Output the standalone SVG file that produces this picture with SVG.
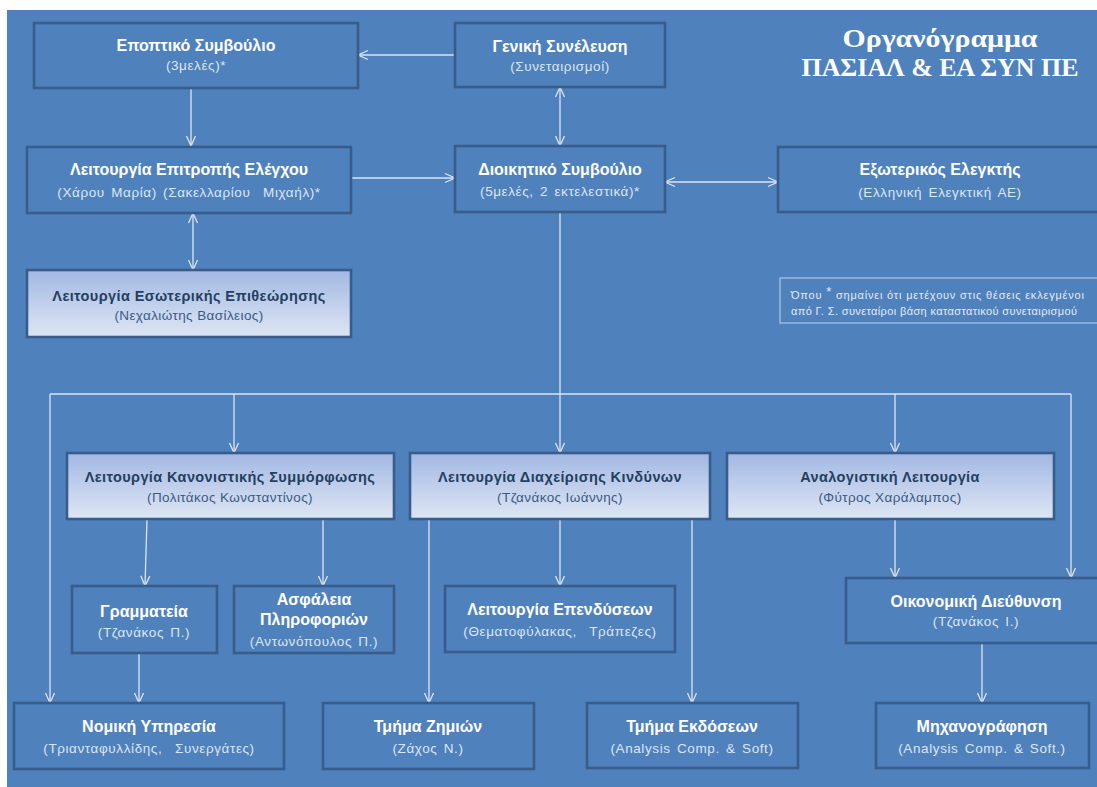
<svg xmlns="http://www.w3.org/2000/svg" width="1097" height="787" viewBox="0 0 1097 787">
<defs>
<linearGradient id="lg" x1="0" y1="0" x2="0" y2="1">
<stop offset="0" stop-color="#A2B8E3"/>
<stop offset="1" stop-color="#DEE6F4"/>
</linearGradient>
<marker id="ah" markerUnits="userSpaceOnUse" markerWidth="14" markerHeight="14" viewBox="0 0 14 14" refX="12" refY="7" orient="auto-start-reverse">
<path d="M2,2.5 L12,7 L2,11.5" fill="none" stroke="#DCE5F2" stroke-width="1.3"/>
</marker>
<style>
.box{fill:#4F81BD;stroke:#385D8A;stroke-width:2.6}
.gbox{fill:url(#lg);stroke:#385D8A;stroke-width:2.6}
.t{font-family:"Liberation Sans",Arial,sans-serif;font-weight:bold;font-size:16px;fill:#FFFFFF;text-anchor:middle}
.s{font-family:"Liberation Sans",Arial,sans-serif;font-size:13.5px;fill:#DCE6F2;text-anchor:middle;letter-spacing:0.6px;word-spacing:2px}
.gt{font-family:"Liberation Sans",Arial,sans-serif;font-weight:bold;font-size:14.5px;fill:#243F60;text-anchor:middle;letter-spacing:0.4px}
.gs{font-family:"Liberation Sans",Arial,sans-serif;font-size:13.5px;fill:#3B5A84;text-anchor:middle;letter-spacing:0.4px}
.hd{font-family:"Liberation Serif","Times New Roman",serif;font-weight:bold;font-size:25px;fill:#FFFFFF;text-anchor:middle}
.nt{font-family:"Liberation Sans",Arial,sans-serif;font-size:11px;fill:#E4EBF6}
.c{fill:none;stroke:#DCE5F2;stroke-width:1.3}
</style>
</defs>
<rect x="0" y="0" width="1097" height="787" fill="#FFFFFF"/>
<rect x="7" y="10" width="1090" height="777" fill="#4F81BD"/>

<g id="heading">
<text class="hd" x="940" y="47" textLength="195" lengthAdjust="spacingAndGlyphs">Οργανόγραμμα</text>
<text class="hd" x="940" y="76" textLength="277" lengthAdjust="spacingAndGlyphs">ΠΑΣΙΑΛ &amp; ΕΑ ΣΥΝ ΠΕ</text>
</g>

<g id="connectors">
<path class="c" d="M455,55 H358" marker-end="url(#ah)"/>
<path class="c" d="M191,88 V146" marker-end="url(#ah)"/>
<path class="c" d="M351,178 H455" marker-end="url(#ah)"/>
<path class="c" d="M560,87 V146" marker-start="url(#ah)" marker-end="url(#ah)"/>
<path class="c" d="M665,182 H778" marker-start="url(#ah)" marker-end="url(#ah)"/>
<path class="c" d="M193,213 V270" marker-start="url(#ah)" marker-end="url(#ah)"/>
<path class="c" d="M560,212 V453" marker-end="url(#ah)"/>
<path class="c" d="M50,394 H1071"/>
<path class="c" d="M50,394 V703" marker-end="url(#ah)"/>
<path class="c" d="M234,394 V453" marker-end="url(#ah)"/>
<path class="c" d="M895,394 V453" marker-end="url(#ah)"/>
<path class="c" d="M1071,394 V578" marker-end="url(#ah)"/>
<path class="c" d="M147,519 L145,586" marker-end="url(#ah)"/>
<path class="c" d="M323,519 V586" marker-end="url(#ah)"/>
<path class="c" d="M139,653 V703" marker-end="url(#ah)"/>
<path class="c" d="M560,519 V586" marker-end="url(#ah)"/>
<path class="c" d="M429,519 V703" marker-end="url(#ah)"/>
<path class="c" d="M692,519 V703" marker-end="url(#ah)"/>
<path class="c" d="M895,519 V578" marker-end="url(#ah)"/>
<path class="c" d="M982,643 V703" marker-end="url(#ah)"/>
</g>

<g id="eportiko">
<rect class="box" x="34" y="23" width="324" height="65"/>
<text class="t" x="196" y="51">Εποπτικό Συμβούλιο</text>
<text class="s" x="196" y="70">(3μελές)*</text>
</g>
<g id="geniki">
<rect class="box" x="455" y="23" width="210" height="64"/>
<text class="t" x="560" y="52">Γενική Συνέλευση</text>
<text class="s" x="560" y="71">(Συνεταιρισμοί)</text>
</g>
<g id="epitropi">
<rect class="box" x="27" y="147" width="324" height="66"/>
<text class="t" x="189" y="175">Λειτουργία Επιτροπής Ελέγχου</text>
<text class="s" x="189" y="197" xml:space="preserve">(Χάρου Μαρία) (Σακελλαρίου  Μιχαήλ)*</text>
</g>
<g id="dioikitiko">
<rect class="box" x="455" y="146" width="210" height="66"/>
<text class="t" x="560" y="175">Διοικητικό Συμβούλιο</text>
<text class="s" x="560" y="196">(5μελές, 2 εκτελεστικά)*</text>
</g>
<g id="exoterikos">
<rect class="box" x="778" y="147" width="330" height="65"/>
<text class="t" x="940" y="175">Εξωτερικός Ελεγκτής</text>
<text class="s" x="940" y="197">(Ελληνική Ελεγκτική ΑΕ)</text>
</g>
<g id="esoteriki">
<rect class="gbox" x="27" y="270" width="324" height="67"/>
<text class="gt" x="189" y="301">Λειτουργία Εσωτερικής Επιθεώρησης</text>
<text class="gs" x="189" y="320">(Νεχαλιώτης Βασίλειος)</text>
</g>
<g id="note">
<rect x="780" y="278" width="325" height="45" fill="none" stroke="#9DB6DD" stroke-width="1.5"/>
<text class="nt" x="791" y="299" textLength="293" lengthAdjust="spacing">Όπου <tspan font-size="13" dy="-3">*</tspan><tspan dy="3"> σημαίνει ότι μετέχουν στις θέσεις εκλεγμένοι</tspan></text>
<text class="nt" x="791" y="315" textLength="286" lengthAdjust="spacing">από Γ. Σ. συνεταίροι βάση καταστατικού συνεταιρισμού</text>
</g>
<g id="kanonistiki">
<rect class="gbox" x="67" y="453" width="327" height="66"/>
<text class="gt" x="230" y="482">Λειτουργία Κανονιστικής Συμμόρφωσης</text>
<text class="gs" x="230" y="502">(Πολιτάκος Κωνσταντίνος)</text>
</g>
<g id="kindynoi">
<rect class="gbox" x="410" y="453" width="300" height="66"/>
<text class="gt" x="560" y="482">Λειτουργία Διαχείρισης Κινδύνων</text>
<text class="gs" x="560" y="502">(Τζανάκος Ιωάννης)</text>
</g>
<g id="analogistiki">
<rect class="gbox" x="727" y="453" width="327" height="66"/>
<text class="gt" x="890" y="482">Αναλογιστική Λειτουργία</text>
<text class="gs" x="890" y="502">(Φύτρος Χαράλαμπος)</text>
</g>
<g id="grammateia">
<rect class="box" x="72" y="586" width="145" height="67"/>
<text class="t" x="144" y="617">Γραμματεία</text>
<text class="s" x="144" y="637">(Τζανάκος Π.)</text>
</g>
<g id="asfaleia">
<rect class="box" x="234" y="586" width="160" height="67"/>
<text class="t" x="314" y="605">Ασφάλεια</text>
<text class="t" x="314" y="625">Πληροφοριών</text>
<text class="s" x="314" y="646">(Αντωνόπουλος Π.)</text>
</g>
<g id="ependyseis">
<rect class="box" x="445" y="586" width="230" height="66"/>
<text class="t" x="560" y="615">Λειτουργία Επενδύσεων</text>
<text class="s" x="560" y="636" xml:space="preserve">(Θεματοφύλακας,  Τράπεζες)</text>
</g>
<g id="oikonomiki">
<rect class="box" x="846" y="578" width="260" height="65"/>
<text class="t" x="976" y="607">Οικονομική Διεύθυνση</text>
<text class="s" x="976" y="626">(Τζανάκος Ι.)</text>
</g>
<g id="nomiki">
<rect class="box" x="14" y="703" width="270" height="66"/>
<text class="t" x="149" y="732">Νομική Υπηρεσία</text>
<text class="s" x="149" y="753" xml:space="preserve">(Τριανταφυλλίδης,  Συνεργάτες)</text>
</g>
<g id="zimies">
<rect class="box" x="323" y="703" width="211" height="66"/>
<text class="t" x="428" y="732">Τμήμα Ζημιών</text>
<text class="s" x="428" y="753">(Ζάχος Ν.)</text>
</g>
<g id="ekdoseis">
<rect class="box" x="587" y="703" width="211" height="65"/>
<text class="t" x="692" y="732">Τμήμα Εκδόσεων</text>
<text class="s" x="692" y="753">(Analysis Comp. &amp; Soft)</text>
</g>
<g id="michanografisi">
<rect class="box" x="876" y="703" width="213" height="65"/>
<text class="t" x="982" y="732">Μηχανογράφηση</text>
<text class="s" x="982" y="753">(Analysis Comp. &amp; Soft.)</text>
</g>
</svg>
